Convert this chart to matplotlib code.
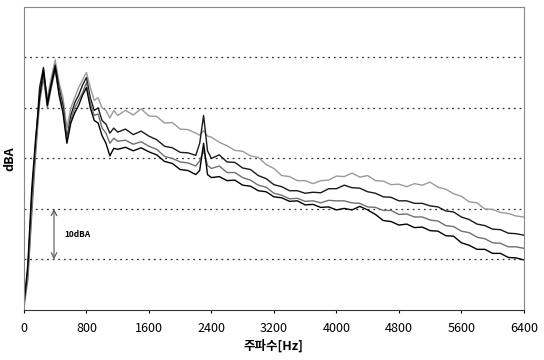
import matplotlib.pyplot as plt

plt.rcParams['font.family'] = ['Noto Sans CJK KR', 'DejaVu Sans']

# frequency grid (Hz)
freq = [0, 50, 100, 150, 200, 250, 300, 350, 400, 450, 500, 550, 600, 650, 700, 750,
        800, 850, 900, 950, 1000, 1050, 1100, 1150, 1200,
        1300, 1400, 1500, 1600, 1700, 1800, 1900, 2000, 2100, 2200, 2250, 2300, 2350,
        2400, 2500, 2600, 2700, 2800, 2900, 3000, 3100, 3200, 3300, 3400, 3500, 3600,
        3700, 3800, 3900, 4000, 4100, 4200, 4300, 4400, 4500, 4600, 4700, 4800, 4900,
        5000, 5100, 5200, 5300, 5400, 5500, 5600, 5700, 5800, 5900, 6000, 6100, 6200,
        6300, 6400]

# levels (dBA, relative) for the four measurements
level_a = [1.5, 7, 20, 32, 43, 47, 42, 46, 49.5, 45, 42, 36, 40, 42, 44, 45.5,
           47, 44, 41.5, 42, 40, 39.5, 38, 39.5, 38.5,
           39.5, 38.6, 39.8, 38.4, 38.3, 37.0, 37.1, 35.8, 35.7, 35.0, 34.6, 35.5, 34.4,
           34.2, 33.2, 32.5, 31.6, 31.4, 30.5, 30.2, 28.8, 28.0, 26.6, 26.4, 25.6, 25.6,
           25.0, 25.6, 25.7, 26.5, 26.4, 27.1, 26.3, 26.6, 25.6, 25.5, 24.8, 24.9, 24.4,
           25.0, 24.7, 25.3, 24.3, 23.9, 23.0, 22.5, 21.4, 21.2, 20.0, 19.9, 19.3, 19.1,
           18.6, 18.4]
level_b = [1, 8, 22, 33, 44, 48, 41, 45, 48.5, 44, 40.5, 34, 38.5, 41, 42.5, 44.5,
           46, 42, 39.5, 40, 37.5, 36.8, 35, 36, 35.2,
           35.8, 34.7, 35.4, 34.4, 33.7, 32.4, 32.1, 31.2, 31.1, 30.6, 33.0, 38.5, 31.5,
           30.0, 30.7, 29.3, 29.2, 28.1, 27.8, 26.6, 26.0, 24.8, 24.4, 23.6, 23.6, 23.1,
           23.3, 23.2, 24.0, 24.0, 24.7, 24.2, 24.1, 23.4, 23.1, 22.4, 22.3, 21.6, 21.6,
           21.1, 21.1, 20.6, 20.4, 19.6, 19.4, 18.4, 17.9, 17.0, 16.7, 16.0, 15.9, 15.2,
           15.1, 14.8]
level_c = [0.5, 6, 19, 31, 41, 46, 40, 44, 47.5, 43, 39.5, 33.5, 37.5, 40, 41.5, 43,
           45, 41, 38.5, 38.8, 36, 35, 33, 34, 33.4,
           33.6, 32.8, 33.3, 32.4, 31.8, 30.4, 30.0, 29.3, 29.1, 28.5, 29.5, 31.5, 28.6,
           28.0, 28.5, 27.2, 27.2, 26.2, 25.7, 24.7, 24.3, 23.1, 22.7, 22.0, 22.1, 21.5,
           21.6, 21.2, 21.7, 21.6, 21.6, 21.2, 21.1, 20.4, 20.3, 19.7, 19.7, 18.9, 19.0,
           18.4, 18.4, 17.8, 17.6, 16.7, 16.5, 15.6, 15.3, 14.4, 14.1, 13.3, 13.2, 12.5,
           12.5, 12.2]
level_d = [1, 9, 24, 34, 42, 47.5, 40.5, 44.5, 48, 42.5, 39, 33, 37, 39, 40.5, 42.5,
           44, 40, 37.5, 37, 34.5, 33, 30.5, 32, 31.8,
           32.2, 31.5, 32.1, 31.3, 30.7, 29.4, 29.0, 27.8, 27.6, 26.8, 27.6, 33.0, 26.8,
           26.2, 26.4, 25.6, 25.7, 24.7, 24.5, 23.6, 23.4, 22.4, 22.2, 21.5, 21.6, 20.8,
           20.9, 20.3, 20.4, 19.8, 20.1, 19.8, 20.5, 19.8, 18.9, 17.7, 17.5, 16.8, 17.0,
           16.3, 16.4, 15.7, 15.6, 14.7, 14.6, 13.3, 12.8, 12.0, 12.0, 11.2, 11.2, 10.4,
           10.3, 9.9]

xticks = [0, 800, 1600, 2400, 3200, 4000, 4800, 5600, 6400]

fig = plt.figure(figsize=(5.44, 3.6), dpi=100)
ax = fig.add_axes([0.044, 0.139, 0.919, 0.842])

ax.plot(freq, level_a, color='#9a9a9a', lw=1.0)
ax.plot(freq, level_b, color='#1a1a1a', lw=1.0)
ax.plot(freq, level_c, color='#707070', lw=1.0)
ax.plot(freq, level_d, color='#000000', lw=1.0)

ax.set_xlim(0, 6400)
ax.set_ylim(0, 60)
ax.set_xticks(xticks)
ax.set_yticks([10, 20, 30, 40, 50])
ax.set_yticklabels([])
ax.tick_params(axis='y', length=0)
ax.tick_params(axis='x', length=2, pad=7, labelsize=9)
ax.grid(axis='y', color='#333333', linestyle=(0, (1.5, 3)), lw=0.9)

for side in ['top', 'left', 'right']:
    ax.spines[side].set_linestyle((0, (1, 1)))
    ax.spines[side].set_color('#888888')
    ax.spines[side].set_linewidth(0.8)
ax.spines['bottom'].set_linestyle((0, (1, 1)))
ax.spines['bottom'].set_color('#333333')

# 10dBA scale marker
ax.annotate('', xy=(385, 20), xytext=(385, 10),
            arrowprops=dict(arrowstyle='<->', color='#555555', lw=0.8,
                            shrinkA=0, shrinkB=0))
ax.text(520, 15, '10dBA', fontsize=6, fontweight='bold', va='center')

ax.set_ylabel('dBA', fontsize=9, fontweight='bold', labelpad=2)
ax.set_xlabel('주파수[Hz]', fontsize=9, fontweight='bold', labelpad=3)

plt.savefig('out.png', dpi=100)
